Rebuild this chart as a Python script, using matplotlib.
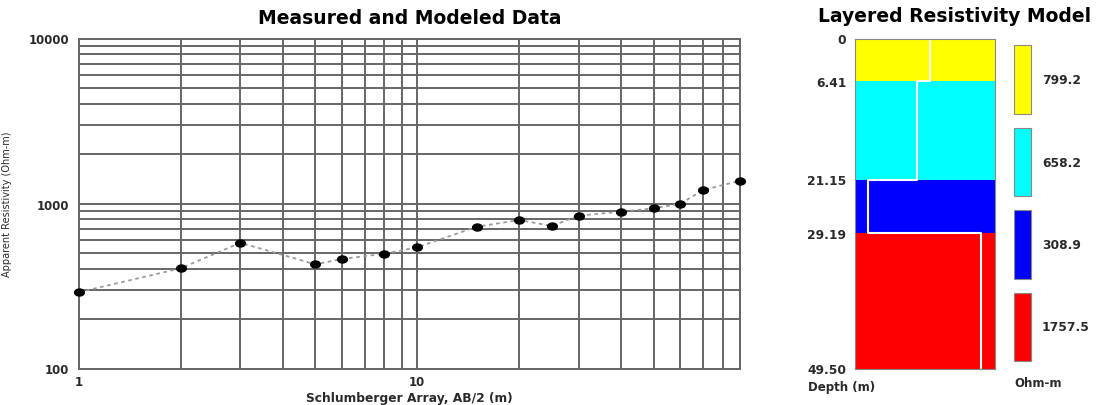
import matplotlib.pyplot as plt
from matplotlib.patches import Rectangle
from matplotlib.path import Path
from matplotlib.ticker import FixedLocator, NullFormatter

# sounding curve: AB/2 spacing (m) and apparent resistivity (Ohm-m)
ab2 = [1, 2, 3, 5, 6, 8, 10, 15, 20, 25, 30, 40, 50, 60, 70, 90]
rho_app = [290, 405, 578, 428, 461, 496, 543, 723, 794, 731, 844, 892, 935, 997, 1207, 1374]

# layered model: layer tops/bottoms (m), resistivities and fill colours
depths = [0, 6.41, 21.15, 29.19, 49.50]
depth_labels = ["0", "6.41", "21.15", "29.19", "49.50"]
layer_rho = [799.2, 658.2, 308.9, 1757.5]
layer_colors = ["#ffff00", "#00ffff", "#0000ff", "#ff0000"]

W, H = 1099, 406
txt = "#2a2a2a"
grid_c = "#666666"

# slightly flattened dot marker
circ = Path.unit_circle()
dot = Path(circ.vertices * [1.0, 0.72], circ.codes)

fig = plt.figure(figsize=(W / 100, H / 100), dpi=100)
bottom = (H - 369.5) / H
height = 330 / H

# ---- left: measured / modeled sounding curve
ax = fig.add_axes([79 / W, bottom, 661 / W, height])
ax.set_xscale("log")
ax.set_yscale("log")
ax.set_xlim(1, 90)
ax.set_ylim(100, 10000)
ax.plot(ab2, rho_app, color="#9a9a9a", lw=1.3, ls=(0, (2, 2)), zorder=3, clip_on=False)
ax.plot(ab2, rho_app, ls="none", marker=dot, color="black", ms=7, zorder=4, clip_on=False)

ax.xaxis.set_major_locator(FixedLocator([1, 10]))
ax.xaxis.set_minor_locator(FixedLocator([2, 3, 4, 5, 6, 7, 8, 9, 20, 30, 40, 50, 60, 70, 80, 90]))
ax.yaxis.set_major_locator(FixedLocator([100, 1000, 10000]))
ax.yaxis.set_minor_locator(FixedLocator([k * m for m in (100, 1000) for k in range(2, 10)]))
ax.set_xticklabels(["1", "10"])
ax.set_yticklabels(["100", "1000", "10000"])
ax.xaxis.set_minor_formatter(NullFormatter())
ax.yaxis.set_minor_formatter(NullFormatter())
ax.grid(True, which="both", color=grid_c, lw=1.4)
ax.tick_params(which="both", length=0, labelsize=8.5, labelcolor=txt)
for lab in ax.get_xticklabels() + ax.get_yticklabels():
    lab.set_fontweight("bold")
ax.tick_params(axis="x", pad=5)
ax.tick_params(axis="y", pad=7)
for s in ax.spines.values():
    s.set_color(grid_c)
    s.set_linewidth(1.4)
ax.set_title("Measured and Modeled Data", fontsize=13.5, fontweight="bold", pad=11)
ax.set_xlabel("Schlumberger Array, AB/2 (m)", fontsize=8.8, fontweight="bold", color=txt, labelpad=2)
ax.set_ylabel("Apparent Resistivity (Ohm-m)", fontsize=7, color=txt, labelpad=12)

# ---- middle: layered resistivity column
ax2 = fig.add_axes([854.5 / W, bottom, 140.5 / W, height])
ax2.set_xscale("log")
ax2.set_ylim(depths[-1], 0)
for i, c in enumerate(layer_colors):
    ax2.axhspan(depths[i], depths[i + 1], color=c, lw=0)
step_x, step_y = [], []
for i, r in enumerate(layer_rho):
    step_x += [r, r]
    step_y += [depths[i], depths[i + 1]]
ax2.plot(step_x, step_y, color="white", lw=1.5)
ax2.margins(x=0.124)
ax2.set_xticks([])
ax2.minorticks_off()
ax2.set_yticks(depths)
ax2.set_yticklabels(depth_labels, fontweight="bold")
ax2.tick_params(axis="y", length=0, pad=6, labelsize=8.8, labelcolor=txt)
ax2.tick_params(axis="x", which="both", length=0, labelbottom=False)
for s in ax2.spines.values():
    s.set_color("#888888")
    s.set_linewidth(0.8)
fig.text(955 / W, 1 - 17 / H, "Layered Resistivity Model", fontsize=13.5,
         fontweight="bold", ha="center", va="center")
fig.text(808 / W, 1 - 388 / H, "Depth (m)", fontsize=8.5, fontweight="bold",
         color=txt, va="center")

# ---- right: colour key with layer resistivities
axk = fig.add_axes([1014 / W, bottom, 85 / W, height])
axk.set_xlim(0, 85)
axk.set_ylim(330, 0)
axk.axis("off")
for i, (r, c) in enumerate(zip(layer_rho, layer_colors)):
    top = 6.8 + i * 82.4
    axk.add_patch(Rectangle((0, top), 17, 68.5, facecolor=c, edgecolor="#888888", lw=0.8))
    axk.text(28, top + 34.5, f"{r:.1f}", fontsize=8.8, fontweight="bold", color=txt, va="center")
fig.text(1014 / W, 1 - 384 / H, "Ohm-m", fontsize=8.5, fontweight="bold", color=txt, va="center")

fig.savefig("out.png", dpi=100)
